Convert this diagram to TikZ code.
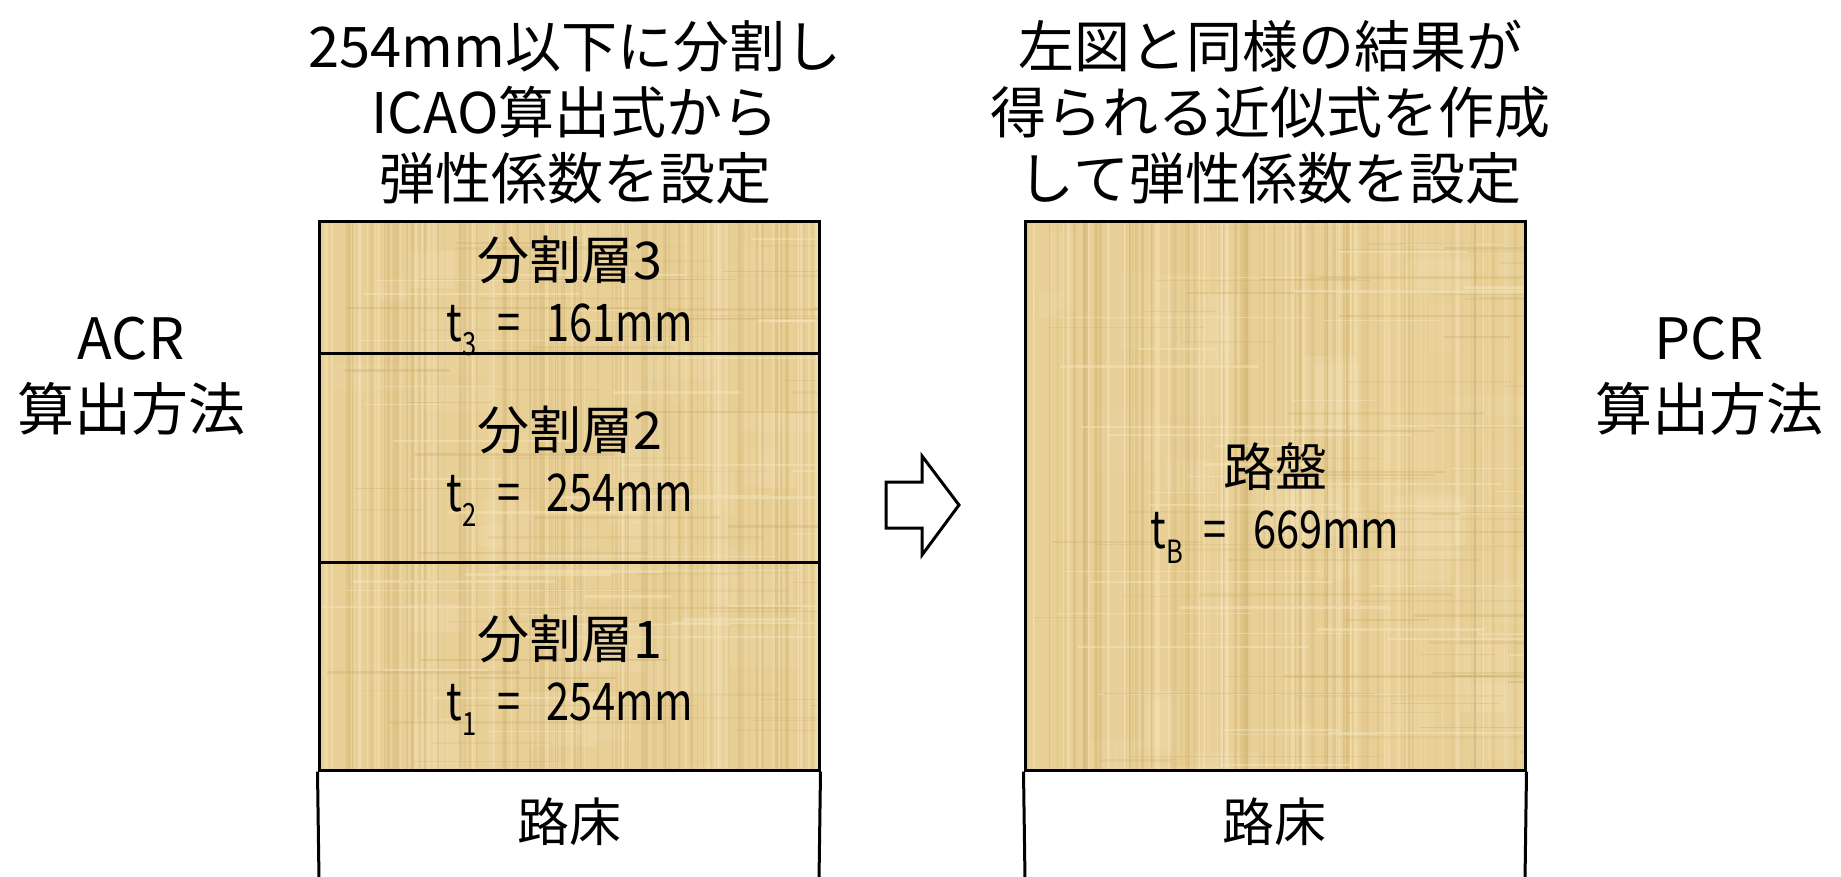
\documentclass[tikz,border=0pt]{standalone}
\usepackage{fontspec}
\setmainfont{Noto Sans CJK JP}
\newfontfamily\nar[FakeStretch=0.8]{Noto Sans CJK JP}
\usetikzlibrary{calc}
\definecolor{pbase}{HTML}{E8CF96}
\definecolor{pdark}{HTML}{C8A964}
\definecolor{plight}{HTML}{F6E6BE}
\newcommand{\subx}[1]{\raisebox{-0.28em}{\fontsize{32}{32}\selectfont #1}}
\newcommand{\thk}[2]{{\nar t\subx{#1}\hspace{0.4em}=\hspace{0.5em}#2}}
\newcommand{\papyrus}[4]{%
  \begin{scope}
    \clip (#1,#2) rectangle (#3,#4);
    \fill[pbase] (#1,#2) rectangle (#3,#4);
    \foreach \i in {1,...,40}{%
      \pgfmathsetmacro\xa{#1+rnd*(#3-#1)}%
      \pgfmathsetmacro\ya{#2+rnd*(#4-#2)}%
      \pgfmathsetmacro\wa{20+rnd*60}%
      \pgfmathsetmacro\ha{20+rnd*60}%
      \pgfmathsetmacro\oa{0.08+rnd*0.15}%
      \fill[plight,opacity=\oa] (\xa,\ya) rectangle ++(\wa,\ha);
    }
    \foreach \i in {1,...,90}{%
      \pgfmathsetmacro\xa{#1+rnd*(#3-#1)}%
      \pgfmathsetmacro\wa{0.6+rnd*3}%
      \pgfmathsetmacro\oa{0.10+rnd*0.22}%
      \draw[pdark,line width=\wa,opacity=\oa] (\xa,#2) -- (\xa,#4);
    }
    \foreach \i in {1,...,50}{%
      \pgfmathsetmacro\xa{#1+rnd*(#3-#1)}%
      \pgfmathsetmacro\wa{0.6+rnd*3}%
      \draw[plight,line width=\wa,opacity=0.4] (\xa,#2) -- (\xa,#4);
    }
    \foreach \i in {1,...,60}{%
      \pgfmathsetmacro\ya{#2+rnd*(#4-#2)}%
      \pgfmathsetmacro\xa{#1+rnd*(#3-#1)}%
      \pgfmathsetmacro\la{60+rnd*250}%
      \pgfmathsetmacro\wa{0.6+rnd*2.5}%
      \pgfmathsetmacro\oa{0.12+rnd*0.22}%
      \draw[pdark,line width=\wa,opacity=\oa] (\xa,\ya) -- ++(\la,0);
    }
    \foreach \i in {1,...,40}{%
      \pgfmathsetmacro\ya{#2+rnd*(#4-#2)}%
      \pgfmathsetmacro\xa{#1+rnd*(#3-#1)}%
      \pgfmathsetmacro\la{60+rnd*250}%
      \pgfmathsetmacro\wa{0.6+rnd*2.5}%
      \draw[plight,line width=\wa,opacity=0.45] (\xa,\ya) -- ++(\la,0);
    }
  \end{scope}}
\tikzset{
  box/.style={draw=black,line width=3pt,inner sep=0pt,rectangle},
  ttl/.style={align=center,font=\fontsize{56}{66}\selectfont},
  side/.style={align=center,font=\fontsize{57}{71}\selectfont},
  inn/.style={align=center,font=\fontsize{52}{62}\selectfont},
  arr/.style={draw=black,line width=3pt,fill=white,line join=miter}
}
\begin{document}
\begin{tikzpicture}[x=1pt,y=-1pt]
\pgfmathsetseed{4242}
\useasboundingbox (0,0) rectangle (1841,876);
\fill[white] (0,0) rectangle (1841,876);
% textures
\papyrus{319}{221}{819}{770}
\papyrus{1025}{221}{1525}{770}
% left stack
\node[box,minimum width=500pt,minimum height=132pt] (l3) at (569,287) {};
\node[box,minimum width=500pt,minimum height=209pt] (l2) at (569,457.5) {};
\node[box,minimum width=500pt,minimum height=208pt] (l1) at (569,666) {};
\coordinate (lbl) at (319,880);
\coordinate (lbr) at (819,880);
\draw[black,line width=3pt] (l1.south west) -- (lbl);
\draw[black,line width=3pt] (l1.south east) -- (lbr);
% right stack
\node[box,minimum width=500pt,minimum height=549pt] (rb) at (1275,495.5) {};
\coordinate (rbl) at (1025,880);
\coordinate (rbr) at (1525,880);
\draw[black,line width=3pt] (rb.south west) -- (rbl);
\draw[black,line width=3pt] (rb.south east) -- (rbr);
% texts in boxes
\node[inn] (t3) at (570,296) {分割層3\\\thk{3}{161mm}};
\node[inn] (t2) at (570,466) {分割層2\\\thk{2}{254mm}};
\node[inn] (t1) at (570,675) {分割層1\\\thk{1}{254mm}};
\node[inn] (tb) at (1275,503) {路盤\\\thk{B}{669mm}};
\node[inn] (sgl) at (569,822) {路床};
\node[inn] (sgr) at (1274,822) {路床};
% titles
\node[ttl] (ttlL) at (575,112) {254mm以下に分割し\\ICAO算出式から\\弾性係数を設定};
\node[ttl] (ttlR) at (1270,112) {左図と同様の結果が\\得られる近似式を作成\\して弾性係数を設定};
% side labels
\node[side] (acr) at (131,376) {ACR\\算出方法};
\node[side] (pcr) at (1709,376) {PCR\\算出方法};
% block arrow
\draw[arr] (886,482) -- (922,482) -- (922,456) -- (959,505) -- (922,555) -- (922,528) -- (886,528) -- cycle;
\end{tikzpicture}
\end{document}
